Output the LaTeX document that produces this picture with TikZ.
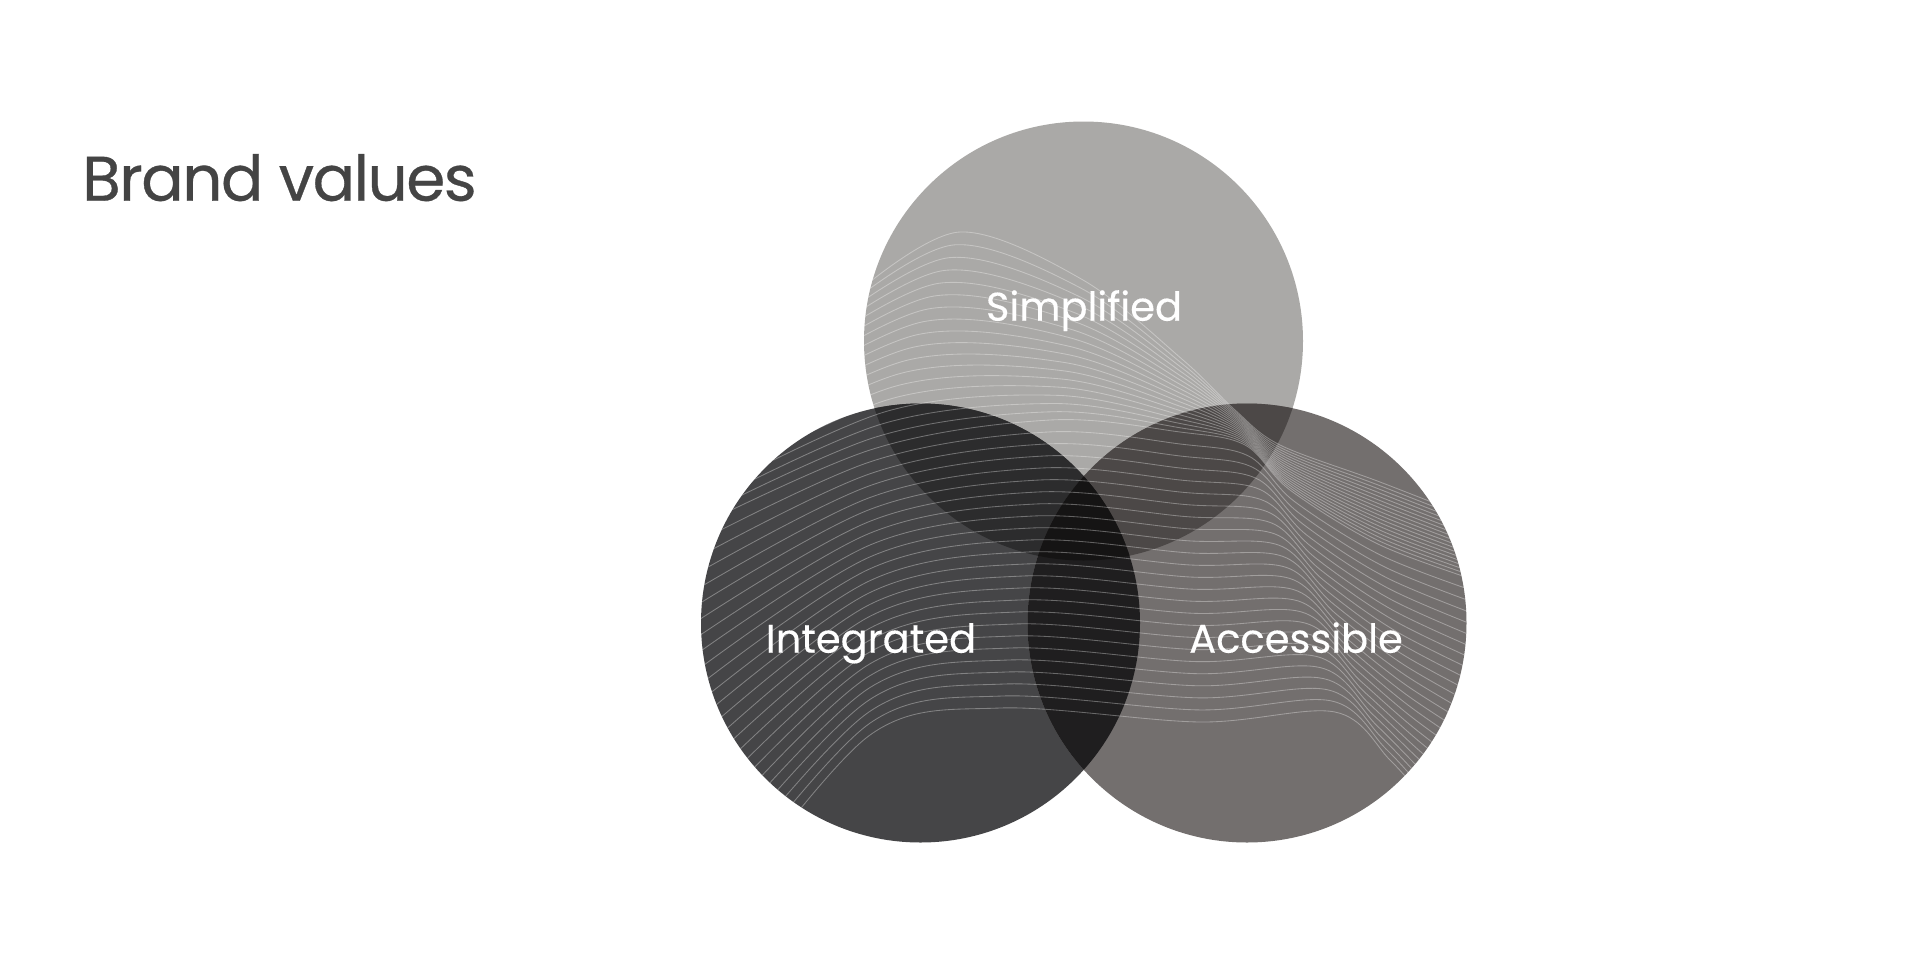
\documentclass[tikz,border=0pt]{standalone}
\usepackage{fontspec}
\setmainfont{Poppins}
\newfontfamily\titlefont{Poppins}[FakeBold=0.5, LetterSpace=-2.5]
\newfontfamily\labelfont{Poppins}[FakeBold=0.3]
\definecolor{cT}{RGB}{170,169,167}
\definecolor{cL}{RGB}{69,69,71}
\definecolor{cR}{RGB}{115,111,110}
\definecolor{cTL}{RGB}{44,44,45}
\definecolor{cTR}{RGB}{76,72,71}
\definecolor{cLR}{RGB}{31,30,31}
\definecolor{cTLR}{RGB}{21,20,20}
\definecolor{titlegray}{RGB}{68,68,68}
\newcommand\mixpt[5]{\coordinate (#1) at ({#2+(#4-#2)*\t},{#3+(#5-#3)*\t});}
\begin{document}
\begin{tikzpicture}[x=1pt,y=-1pt,
  wave/.style={white, opacity=0.33, line width=0.85pt},
  valuelabel/.style={text=white, font=\labelfont\fontsize{40}{48}\selectfont, anchor=base, inner sep=0pt},
  disc/.style={radius=219.5pt}]
\useasboundingbox (0,0) rectangle (1920,978);
\fill[white] (0,0) rectangle (1920,978);
\coordinate (T) at (1083.5,341);
\coordinate (L) at (920.5,623);
\coordinate (R) at (1247,623);
% base discs
\fill[cT] (T) circle[disc];
\fill[cL] (L) circle[disc];
\fill[cR] (R) circle[disc];
% overlaps
\begin{scope}\clip (T) circle[disc]; \fill[cTL] (L) circle[disc];\end{scope}
\begin{scope}\clip (T) circle[disc]; \fill[cTR] (R) circle[disc];\end{scope}
\begin{scope}\clip (L) circle[disc]; \fill[cLR] (R) circle[disc];\end{scope}
\begin{scope}\clip (T) circle[disc]; \clip (L) circle[disc]; \fill[cTLR] (R) circle[disc];\end{scope}
% wave lines
\begin{scope}
\clip (T) circle[disc] (L) circle[disc] (R) circle[disc];
\foreach \i in {0,...,17}{
  \pgfmathsetmacro\t{\i/17}
  \mixpt{p0}{860}{290}{660}{545}
  \mixpt{p1}{960}{232}{870}{450}
  \mixpt{p2}{1083}{280}{1050}{420}
  \mixpt{p3}{1183}{360}{1180}{432}
  \mixpt{p4}{1235}{410}{1245}{445}
  \mixpt{p5}{1280}{445}{1290}{490}
  \mixpt{p6}{1380}{482}{1380}{545}
  \mixpt{p7}{1490}{525}{1490}{585}
  \draw[wave] plot[smooth,tension=0.55] coordinates {(p0)(p1)(p2)(p3)(p4)(p5)(p6)(p7)};
}
\foreach \i in {1,...,24}{
  \pgfmathsetmacro\t{\i/24}
  \mixpt{p0}{660}{545}{730}{900}
  \mixpt{p1}{870}{450}{870}{735}
  \mixpt{p2}{1050}{420}{1000}{708}
  \mixpt{p3}{1180}{432}{1200}{722}
  \mixpt{p4}{1245}{445}{1335}{712}
  \mixpt{p5}{1290}{490}{1390}{760}
  \mixpt{p6}{1380}{545}{1430}{805}
  \mixpt{p7}{1490}{585}{1480}{860}
  \draw[wave] plot[smooth,tension=0.55] coordinates {(p0)(p1)(p2)(p3)(p4)(p5)(p6)(p7)};
}
\end{scope}
% labels
\node[valuelabel] (simplified) at (1084,320.7) {Simplified};
\node[valuelabel] (integrated) at (871,652.7) {Integrated};
\node[valuelabel] (accessible) at (1296,652.7) {Accessible};
\node[anchor=base west, text=titlegray, font=\titlefont\fontsize{63}{70}\selectfont, inner sep=0pt] (title) at (82,200.7) {Brand values};
\end{tikzpicture}
\end{document}
